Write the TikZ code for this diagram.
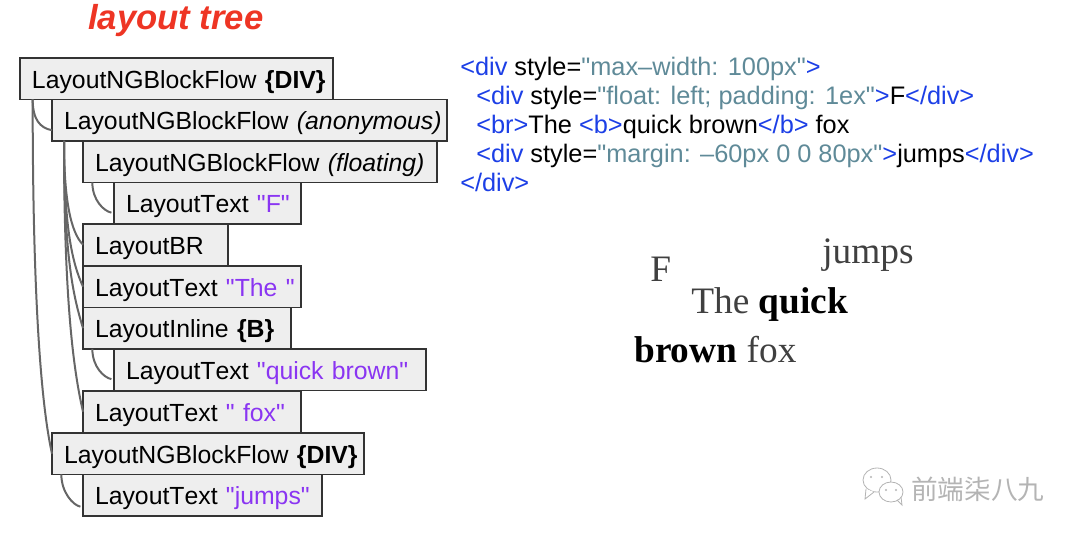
\documentclass[tikz,border=0pt]{standalone}
\usepackage{fontspec}
\setmainfont[Ligatures=TeXOff,Kerning=Off]{Liberation Sans}
\newfontfamily\serifout{Liberation Serif}
\newfontfamily\cjk{Noto Sans CJK SC}
\definecolor{boxfill}{HTML}{EEEEEE}
\definecolor{boxline}{HTML}{333333}
\definecolor{treeedge}{HTML}{666666}
\definecolor{strcolor}{HTML}{8A35F2}
\definecolor{tagcolor}{HTML}{1C3FE6}
\definecolor{valcolor}{HTML}{5F8A98}
\definecolor{titlered}{HTML}{EE3524}
\definecolor{markgray}{HTML}{B4B4B4}
\newcommand{\strtxt}[1]{\textcolor{strcolor}{#1}}
\newcommand{\tagtxt}[1]{\textcolor{tagcolor}{#1}}
\newcommand{\valtxt}[1]{\textcolor{valcolor}{#1}}
\tikzset{
  layoutbox/.style={draw=boxline, fill=boxfill, line width=1pt, anchor=north west,
    outer sep=0pt, inner xsep=0pt, inner ysep=0pt, text height=22.5pt, text depth=8.5pt,
    text width={#1*0.75pt}, align=left, font=\fontsize{18.6}{20}\selectfont,
    execute at begin node={\hspace*{9pt}}},
  treeline/.style={draw=treeedge, line width=1.5pt},
  codeline/.style={anchor=base west, inner sep=0pt, font=\fontsize{19}{20}\selectfont},
  outline/.style={anchor=base west, inner sep=0pt, text=black!75,
    font=\fontsize{28}{30}\selectfont\serifout},
  markline/.style={draw=markgray, fill=white, line width=0.6pt}
}
\begin{document}
\begin{tikzpicture}[x=0.75pt,y=-0.75pt]
  \useasboundingbox (0,0) rectangle (1080,536);
  \node[anchor=base west, inner sep=0pt, text=titlered,
    font=\fontsize{26}{30}\selectfont\itshape\bfseries] (title) at (88,29) {layout tree};

  \node[layoutbox=313] (root) at (20,58) {LayoutNGBlockFlow \textbf{\{DIV\}}};
  \node[layoutbox=395] (anon) at (52,99.5) {LayoutNGBlockFlow \textit{(anonymous)}};
  \node[layoutbox=354] (float) at (83,141) {LayoutNGBlockFlow \textit{(floating)}};
  \node[layoutbox=187] (textf) at (114,182.5) {LayoutText \strtxt{"F"}};
  \node[layoutbox=145] (br) at (83,224) {LayoutBR};
  \node[layoutbox=218] (textthe) at (83,266) {LayoutText \strtxt{"The "}};
  \node[layoutbox=208] (inlineb) at (83,307.5) {LayoutInline \textbf{\{B\}}};
  \node[layoutbox=312] (textquick) at (114,349) {LayoutText \strtxt{"quick brown"}};
  \node[layoutbox=218] (textfox) at (83,391) {LayoutText \strtxt{" fox"}};
  \node[layoutbox=312] (div) at (52,433) {LayoutNGBlockFlow \textbf{\{DIV\}}};
  \node[layoutbox=239] (textjumps) at (83,474.5) {LayoutText \strtxt{"jumps"}};

  \draw[treeline] ([xshift=9.5pt]root.south west) .. controls +(0,20) and +(-12,-2) .. ([yshift=-7.5pt]anon.west);
  \draw[treeline] ([xshift=9.5pt]root.south west) .. controls +(0,220) and +(-9,-40) .. (div.west);
  \draw[treeline] ([xshift=9pt]anon.south west) .. controls +(0,60) and +(-12,-12) .. (br.west);
  \draw[treeline] ([xshift=9pt]anon.south west) .. controls +(0,90) and +(-10,-22) .. (textthe.west);
  \draw[treeline] ([xshift=9pt]anon.south west) .. controls +(0,120) and +(-9,-30) .. (inlineb.west);
  \draw[treeline] ([xshift=9pt]anon.south west) .. controls +(0,170) and +(-8,-35) .. (textfox.west);
  \draw[treeline, shorten >=2pt] ([xshift=7pt]float.south west) .. controls +(0,18) and +(-10,-2) .. ([yshift=-7.5pt]textf.west);
  \draw[treeline, shorten >=2pt] ([xshift=7pt]inlineb.south west) .. controls +(0,18) and +(-10,-2) .. ([yshift=-7.5pt]textquick.west);
  \draw[treeline, shorten >=2pt] ([xshift=7pt]div.south west) .. controls +(0,18) and +(-10,-2) .. ([yshift=-9pt]textjumps.west);

  \node[codeline] (line1) at (460,75) {\tagtxt{<div} style=\valtxt{"max–width: 100px"}\tagtxt{>}};
  \node[codeline] (line2) at (476,104) {\tagtxt{<div} style=\valtxt{"float: left; padding: 1ex"}\tagtxt{>}F\tagtxt{</div>}};
  \node[codeline] (line3) at (476,133) {\tagtxt{<br>}The \tagtxt{<b>}quick brown\tagtxt{</b>} fox};
  \node[codeline] (line4) at (476,162) {\tagtxt{<div} style=\valtxt{"margin: –60px 0 0 80px"}\tagtxt{>}jumps\tagtxt{</div>}};
  \node[codeline] (line5) at (460,191) {\tagtxt{</div>}};

  \node[outline] (outf) at (650,281) {F};
  \node[outline] (outjumps) at (822,263) {jumps};
  \node[outline] (outquick) at (691,313) {The \textbf{\textcolor{black}{quick}}};
  \node[outline] (outfox) at (634,362) {\textbf{\textcolor{black}{brown}} fox};

  \draw[markline] (877,480) ellipse (14 and 12);
  \draw[markline] (866,489) -- (865,499) -- (874,492);
  \fill[markgray] (871,477) circle (1.2) (882,477) circle (1.2);
  \draw[markline] (891,492) ellipse (12 and 10);
  \draw[markline, fill=none] (897,500) -- (902,505) -- (901,497);
  \fill[markgray] (886,490) circle (1.2) (896,490) circle (1.2);
  \node[anchor=west, inner sep=0pt, text=markgray, font=\fontsize{20}{22}\selectfont\cjk] (mark) at (911,489) {前端柒八九};
\end{tikzpicture}
\end{document}
